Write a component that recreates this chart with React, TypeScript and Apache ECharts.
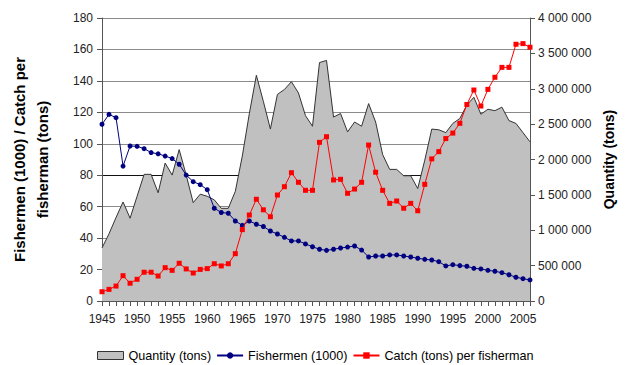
import React, { useEffect, useRef } from "react";
import * as echarts from "echarts";

// Years on the category axis
const years: string[] = [];
for (let y = 1945; y <= 2006; y++) years.push(String(y));

// Total catch quantity (tons), right axis
const quantity = [
  750000, 950000, 1180000, 1400000, 1170000, 1480000, 1790000, 1790000, 1530000, 1950000,
  1780000, 2140000, 1780000, 1390000, 1510000, 1480000, 1430000, 1310000, 1310000, 1550000,
  2050000, 2650000, 3190000, 2820000, 2430000, 2920000, 2990000, 3100000, 2940000, 2620000,
  2470000, 3370000, 3400000, 2600000, 2650000, 2390000, 2530000, 2470000, 2790000, 2530000,
  2070000, 1860000, 1860000, 1770000, 1770000, 1590000, 1990000, 2430000, 2420000, 2380000,
  2510000, 2580000, 2770000, 2880000, 2640000, 2710000, 2690000, 2740000, 2550000, 2510000,
  2380000, 2250000,
];

// Number of fishermen (thousands), left axis
const fishermen = [
  112.4, 118.7, 116.6, 85.8, 98.6, 98.4, 96.9, 94.4, 93.6, 92.2,
  90.6, 87.0, 80.1, 75.9, 74.0, 70.8, 59.0, 56.3, 55.8, 50.9,
  48.1, 50.9, 48.8, 47.4, 44.5, 42.6, 40.5, 38.2, 38.2, 36.3,
  34.5, 32.9, 32.2, 32.9, 33.7, 34.3, 35.0, 32.4, 28.0, 28.6,
  28.6, 29.3, 29.3, 28.6, 28.0, 27.2, 26.5, 26.1, 25.0, 22.3,
  23.1, 22.5, 22.1, 20.8, 20.4, 19.5, 18.9, 18.0, 16.7, 15.1,
  14.2, 13.4,
];

// Catch per fisherman (tons), left axis
const catchPerFisherman = [
  5.9, 7.4, 9.5, 16.1, 11.3, 13.8, 18.3, 18.3, 15.9, 21.2,
  19.5, 24.0, 20.4, 17.8, 20.1, 20.6, 23.7, 22.3, 23.7, 30.1,
  45.4, 54.7, 64.7, 58.0, 53.6, 67.4, 72.7, 81.6, 75.5, 70.4,
  70.4, 100.9, 104.5, 77.0, 77.4, 68.5, 71.2, 75.5, 99.2, 81.9,
  70.4, 62.1, 63.6, 59.0, 62.1, 57.4, 74.2, 90.4, 95.0, 103.3,
  106.8, 113.0, 125.0, 134.2, 124.0, 134.6, 142.3, 148.6, 148.6, 163.3,
  163.7, 161.4,
];

const leftTitle = "Fishermen (1000) / Catch per\nfisherman (tons)";
const rightTitle = "Quantity (tons)";
const seriesNames = ["Quantity (tons)", "Fishermen (1000)", "Catch (tons) per fisherman"];

const FONT = "'Liberation Sans', Arial, sans-serif";

const spaced = (v: number) => String(v).replace(/\B(?=(\d{3})+(?!\d))/g, " ");

export default function App() {
  const ref = useRef<HTMLDivElement>(null);

  useEffect(() => {
    if (!ref.current) return;
    const chart = echarts.init(ref.current, undefined, { renderer: "svg" });
    // split lines cycle through these colours; the 80 line is drawn dark
    const gridColors = ["#8a8a8a", "#8a8a8a", "#8a8a8a", "#8a8a8a", "#111111", "#8a8a8a", "#8a8a8a", "#8a8a8a", "#8a8a8a", "#8a8a8a"];
    chart.setOption({
      animation: false,
      backgroundColor: "#ffffff",
      textStyle: { fontFamily: FONT },
      grid: { left: 90, right: 98, top: 18, bottom: 64, containLabel: false },
      legend: {
        left: 97,
        top: 349,
        padding: 0,
        itemGap: 5,
        itemWidth: 26,
        itemHeight: 8,
        textStyle: { fontFamily: FONT, fontSize: 12.6, color: "#000" },
        data: [
          { name: seriesNames[0], icon: "rect", itemStyle: { color: "#c0c0c0", borderColor: "#333", borderWidth: 1 } },
          { name: seriesNames[1] },
          { name: seriesNames[2] },
        ],
      },
      xAxis: {
        type: "category",
        data: years,
        boundaryGap: false,
        axisLine: { lineStyle: { color: "#555", width: 1 } },
        axisTick: { show: true, interval: 0, length: 5, lineStyle: { color: "#555" } },
        axisLabel: { interval: 4, color: "#222", fontSize: 12, fontFamily: FONT, margin: 12 },
        splitLine: { show: false },
      },
      yAxis: [
        {
          type: "value",
          min: 0,
          max: 180,
          interval: 20,
          name: leftTitle,
          nameLocation: "middle",
          nameGap: 48,
          nameTextStyle: { fontFamily: FONT, fontSize: 15, fontWeight: "bold", color: "#000", lineHeight: 23 },
          axisLine: { show: true, lineStyle: { color: "#555" } },
          axisTick: { show: true, length: 5, lineStyle: { color: "#555" } },
          axisLabel: { color: "#222", fontSize: 12, fontFamily: FONT, margin: 9 },
          splitLine: { show: true, lineStyle: { color: gridColors, width: 1.2 } },
        },
        {
          type: "value",
          min: 0,
          max: 4000000,
          interval: 500000,
          position: "right",
          name: rightTitle,
          nameLocation: "middle",
          nameGap: 70,
          nameRotate: 90,
          nameTextStyle: { fontFamily: FONT, fontSize: 14, fontWeight: "bold", color: "#000" },
          axisLine: { show: true, lineStyle: { color: "#555" } },
          axisTick: { show: true, length: 5, lineStyle: { color: "#555" } },
          axisLabel: { color: "#222", fontSize: 12, fontFamily: FONT, margin: 8, formatter: spaced },
          splitLine: { show: false },
        },
      ],
      series: [
        {
          name: seriesNames[0],
          type: "line",
          yAxisIndex: 1,
          data: quantity,
          symbol: "none",
          color: "#c0c0c0",
          lineStyle: { color: "#333", width: 1 },
          areaStyle: { color: "#c0c0c0", opacity: 1 },
          z: 1,
        },
        {
          name: seriesNames[1],
          type: "line",
          yAxisIndex: 0,
          data: fishermen,
          symbol: "circle",
          symbolSize: 5,
          showAllSymbol: true,
          color: "#000080",
          lineStyle: { color: "#000080", width: 1 },
          itemStyle: { color: "#000080" },
          z: 3,
        },
        {
          name: seriesNames[2],
          type: "line",
          yAxisIndex: 0,
          data: catchPerFisherman,
          symbol: "rect",
          symbolSize: 5,
          showAllSymbol: true,
          color: "#ff0000",
          lineStyle: { color: "#ff0000", width: 1 },
          itemStyle: { color: "#ff0000" },
          z: 4,
        },
      ],
    });
    return () => chart.dispose();
  }, []);

  return <div ref={ref} style={{ width: 628, height: 365, position: "absolute", left: 0, top: 0 }} />;
}
